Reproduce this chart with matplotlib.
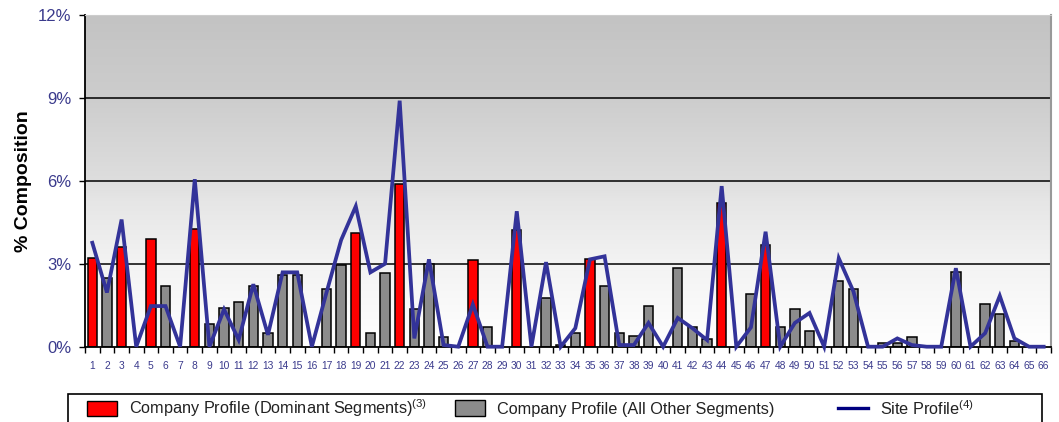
import numpy as np
import matplotlib
matplotlib.use("Agg")
import matplotlib.pyplot as plt
from matplotlib.patches import Rectangle, Patch
from matplotlib.lines import Line2D

plt.rcParams['font.family'] = ['Liberation Sans', 'DejaVu Sans']
plt.rcParams['mathtext.default'] = 'regular'

categories = [str(i) for i in range(1, 67)]
company = [3.2, 2.5, 3.6, 0, 3.9, 2.18, 0, 4.26, 0.83, 1.41,
           1.62, 2.18, 0.49, 2.6, 2.6, 0, 2.1, 2.96, 4.13, 0.49,
           2.67, 5.87, 1.38, 3.0, 0.34, 0, 3.12, 0.7, 0, 4.22,
           0, 1.75, 0.06, 0.49, 3.18, 2.18, 0.49, 0.4, 1.47, 0,
           2.85, 0.7, 0.28, 5.2, 0, 1.9, 3.67, 0.7, 1.35, 0.55,
           0, 2.36, 2.1, 0, 0.12, 0.15, 0.34, 0, 0, 2.7,
           0, 1.53, 1.2, 0.21, 0, 0]
dominant = [1, 3, 5, 8, 19, 22, 27, 30, 35, 44, 47]
site = [3.76, 1.96, 4.6, 0, 1.47, 1.47, 0, 6.06, 0, 1.35,
        0.25, 2.26, 0.43, 2.69, 2.69, 0, 1.96, 3.86, 5.08, 2.69,
        3.0, 8.9, 0.3, 3.16, 0.06, 0, 1.53, 0, 0, 4.9,
        0, 3.06, 0, 0.67, 3.16, 3.27, 0.06, 0.06, 0.86, 0,
        1.04, 0.67, 0.24, 5.81, 0, 0.7, 4.16, 0, 0.86, 1.22,
        0, 3.2, 2.0, 0, 0, 0.3, 0.06, 0, 0, 2.84,
        0, 0.49, 1.84, 0.3, 0, 0]
yticks = [0, 3, 6, 9, 12]
ytick_labels = ['0%', '3%', '6%', '9%', '12%']

x = np.arange(1, len(categories) + 1)
company = np.array(company)
is_dom = np.isin(x, dominant)

fig = plt.figure(figsize=(10.59, 4.22), dpi=100)
ax = fig.add_axes([85/1059, 1-346.7/422, (1051-85)/1059, (346.7-15)/422])

# gradient background
fr = np.linspace(0, 1, 400)
vals = np.interp(fr, [0, 0.25, 0.44, 0.5, 0.75, 1.0], [255, 243, 230, 222, 205, 195]) / 255.0
img = np.repeat(vals[::-1][:, None], 2, axis=1)
ax.imshow(np.dstack([img, img, img]), extent=[0.5, 66.5, 0, 12], aspect='auto',
          zorder=0, interpolation='bilinear')

for yv in [3, 6, 9]:
    ax.axhline(yv, color='black', lw=1.1, zorder=1)

bw = 0.64
mask_o = (~is_dom) & (company > 0)
ax.bar(x[mask_o], company[mask_o], width=bw, color='#8c8c8c', edgecolor='black', lw=1.1, zorder=2)
ax.bar(x[is_dom], company[is_dom], width=bw, color='#ff0000', edgecolor='black', lw=1.1, zorder=2)
ax.plot(x, site, color='#333399', lw=2.7, zorder=3, clip_on=False, solid_joinstyle='miter')

ax.set_xlim(0.5, 66.5)
ax.set_ylim(0, 12)
ax.set_yticks(yticks)
ax.set_yticklabels(ytick_labels, color='#3a3a8c', fontsize=12)
ax.tick_params(axis='y', length=4, width=1, pad=6)
ax.set_xticks(x)
ax.set_xticklabels(categories, fontsize=7.4, color='#3a3a8c',
                   family=['Liberation Sans Narrow', 'Liberation Sans'])
ax.tick_params(axis='x', which='major', length=0, pad=10)
ax.set_xticks(np.arange(0.5, 67, 1), minor=True)
ax.tick_params(axis='x', which='minor', length=4, width=1, color='black')

ax.spines['left'].set_linewidth(1.3)
ax.spines['bottom'].set_linewidth(1.3)
ax.spines['top'].set_color('#cccccc')
ax.spines['right'].set_color('#999999')
ax.spines['right'].set_linewidth(1.5)

ax.set_ylabel('% Composition', fontsize=14, fontweight='bold')
ax.yaxis.set_label_coords(-53/966, 0.5)

# legend box
fig.patches.append(Rectangle((68/1059, -0.05), (1042-68)/1059, 0.05 + 1-394/422,
                             transform=fig.transFigure, fill=False, edgecolor='black', lw=1.2))

legend_specs = [
    (Patch(facecolor='#ff0000', edgecolor='black'), 'Company Profile (Dominant Segments)$^{(3)}$', 87),
    (Patch(facecolor='#8c8c8c', edgecolor='black'), 'Company Profile (All Other Segments)', 455),
    (Line2D([0], [0], color='#000080', lw=2.4), 'Site Profile$^{(4)}$', 838),
]
for h, lab, px in legend_specs:
    fig.legend([h], [lab], loc='center left', bbox_to_anchor=(px/1059, 1-408.5/422),
               frameon=False, borderpad=0, borderaxespad=0, handlelength=1.85,
               handleheight=1.05, handletextpad=0.72, fontsize=11.7, labelcolor='#222222')

fig.savefig('out.png', dpi=100)
